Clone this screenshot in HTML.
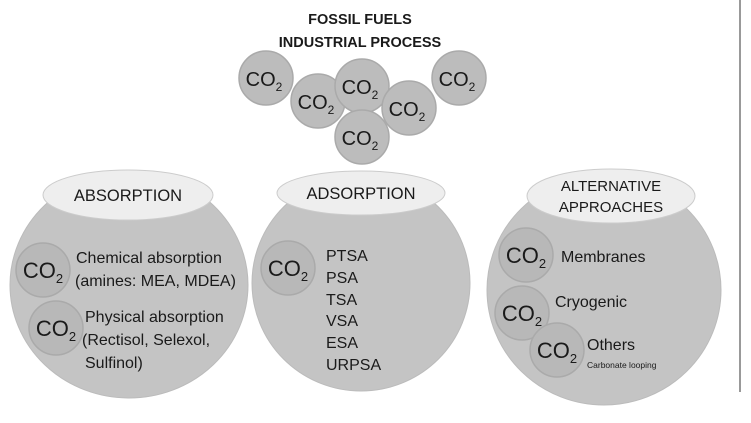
<!DOCTYPE html>
<html><head><style>body{margin:0;background:#fff}svg{display:block}text{font-family:"Liberation Sans Narrow","Liberation Sans",sans-serif;fill:#1a1a1a}</style></head><body>
<svg width="751" height="423" viewBox="0 0 751 423">
<line x1="740" y1="0" x2="740" y2="392" stroke="#333" stroke-width="1"/>
<g text-anchor="middle" font-weight="bold" font-size="14.5"><text x="360" y="24">FOSSIL FUELS</text><text x="360" y="47">INDUSTRIAL PROCESS</text></g>
<g fill="#bcbcbc" stroke="#aaa" stroke-width="1.5">
<circle cx="266" cy="78" r="27"/><circle cx="318" cy="101" r="27"/><circle cx="362" cy="86" r="27"/><circle cx="409" cy="108" r="27"/><circle cx="459" cy="78" r="27"/><circle cx="362" cy="137" r="27"/>
</g>
<g font-size="20" text-anchor="middle">
<text x="264" y="86">CO<tspan font-size="12" dy="5">2</tspan></text>
<text x="316" y="109">CO<tspan font-size="12" dy="5">2</tspan></text>
<text x="360" y="94">CO<tspan font-size="12" dy="5">2</tspan></text>
<text x="407" y="116">CO<tspan font-size="12" dy="5">2</tspan></text>
<text x="457" y="86">CO<tspan font-size="12" dy="5">2</tspan></text>
<text x="360" y="145">CO<tspan font-size="12" dy="5">2</tspan></text>
</g>
<g fill="#c4c4c4" stroke="#bbb">
<ellipse cx="129" cy="285" rx="119" ry="113"/>
<ellipse cx="361" cy="283" rx="109" ry="108"/>
<ellipse cx="604" cy="290" rx="117" ry="115"/>
</g>
<g fill="#eeeeee" stroke="#ccc">
<ellipse cx="128" cy="195" rx="85" ry="25"/>
<ellipse cx="361" cy="193" rx="84" ry="22"/>
<ellipse cx="611" cy="196" rx="84" ry="27"/>
</g>
<g font-size="16.5" text-anchor="middle">
<text x="128" y="201">ABSORPTION</text>
<text x="361" y="199">ADSORPTION</text>
<text x="611" y="191" font-size="15">ALTERNATIVE</text>
<text x="611" y="212" font-size="15">APPROACHES</text>
</g>
<g fill="#b8b8b8" stroke="#aaa" stroke-width="1.5">
<circle cx="43" cy="270" r="27"/><circle cx="56" cy="328" r="27"/><circle cx="288" cy="268" r="27"/>
<circle cx="526" cy="255" r="27"/><circle cx="522" cy="313" r="27"/><circle cx="557" cy="350" r="27"/>
</g>
<g font-size="22" text-anchor="middle">
<text x="43" y="278">CO<tspan font-size="13" dy="5">2</tspan></text>
<text x="56" y="336">CO<tspan font-size="13" dy="5">2</tspan></text>
<text x="288" y="276">CO<tspan font-size="13" dy="5">2</tspan></text>
<text x="526" y="263">CO<tspan font-size="13" dy="5">2</tspan></text>
<text x="522" y="321">CO<tspan font-size="13" dy="5">2</tspan></text>
<text x="557" y="358">CO<tspan font-size="13" dy="5">2</tspan></text>
</g>
<g font-size="16">
<text x="76" y="263">Chemical absorption</text>
<text x="75" y="286">(amines: MEA, MDEA)</text>
<text x="85" y="322">Physical absorption</text>
<text x="82" y="345">(Rectisol, Selexol,</text>
<text x="85" y="368">Sulfinol)</text>
<text x="326" y="261">PTSA</text><text x="326" y="283">PSA</text><text x="326" y="305">TSA</text>
<text x="326" y="326">VSA</text><text x="326" y="348">ESA</text><text x="326" y="370">URPSA</text>
<text x="561" y="262">Membranes</text>
<text x="555" y="307">Cryogenic</text>
<text x="587" y="350">Others</text>
<text x="587" y="368" font-size="8.5">Carbonate looping</text>
</g>
</svg>
</body></html>
